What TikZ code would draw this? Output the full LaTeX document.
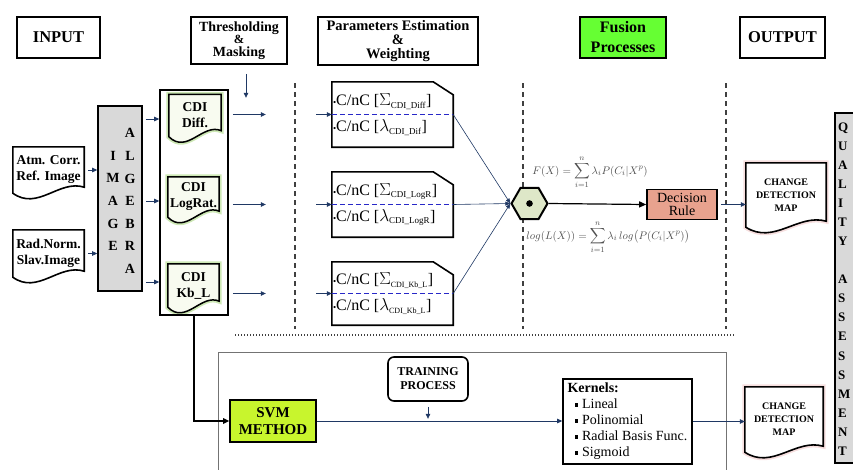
\documentclass[tikz,border=0pt]{standalone}
\usepackage{amsmath}
\usepackage{fontspec}
\setmainfont{Liberation Serif}
\usetikzlibrary{arrows.meta,shapes.geometric,calc,backgrounds}
\definecolor{navy}{RGB}{31,56,100}
\definecolor{fusiongreen}{RGB}{102,255,51}
\definecolor{svmgreen}{RGB}{200,245,45}
\definecolor{salmon}{RGB}{232,162,142}
\definecolor{panelgray}{RGB}{217,217,217}
\definecolor{hexfill}{RGB}{222,231,200}
\definecolor{cdifill}{RGB}{248,251,240}
\definecolor{cdiglow}{RGB}{205,232,180}
\definecolor{mapglow}{RGB}{246,222,222}
\definecolor{formulagray}{RGB}{80,80,80}
\definecolor{dashblue}{RGB}{40,40,200}
\newcommand\fsz[2]{\fontsize{#1}{#2}\selectfont}
\newcommand\docoutline[2]{%
  \path[#1] (#2.south west) -- (#2.north west) -- (#2.north east) -- ($(#2.south east)+(0,-6)$)
    .. controls ($(#2.south west)!0.65!(#2.south east)+(0,-14)$) and ($(#2.south west)!0.35!(#2.south east)+(0,18)$) .. (#2.south west) -- cycle;}
\newcommand\snipbox[1]{%
  \draw[line width=1.6pt] (#1.south west) -- (#1.north west) -- ($(#1.north east)+(-20,0)$) -- ($(#1.north east)+(0,13)$) -- (#1.south east) -- cycle;
  \draw[dashblue,line width=1.2pt,dash pattern=on 5pt off 3pt] (#1.west) -- (#1.east);}
\newcommand\kbullet{\hspace*{7pt}\raisebox{2pt}{\rule{3.5pt}{3.5pt}}\hspace{4pt}}
\tikzset{
  box/.style={draw,line width=1.6pt,inner sep=0pt,align=center},
  hdr/.style={box,font=\bfseries\fsz{14}{12.5}},
  doctext/.style={inner sep=0pt,align=center,font=\bfseries\fsz{13.5}{16}},
  cditext/.style={inner sep=0pt,align=center,font=\bfseries\fsz{13.5}{16},minimum width=52pt,minimum height=42pt},
  maptext/.style={inner sep=0pt,align=center,font=\bfseries\fsz{10}{13}},
  ptext/.style={inner sep=0pt,anchor=west,font=\fsz{16}{18}},
  alglet/.style={inner sep=0pt,align=center,font=\bfseries\fsz{14}{22.6}},
  formula/.style={inner sep=0pt,text=formulagray,font=\fsz{11}{12}},
  arr/.style={navy,line width=0.7pt,-{Triangle[length=5pt,width=4.5pt]}},
  thinarr/.style={navy,line width=0.6pt,-{Triangle[length=5pt,width=4pt]}},
  blackarr/.style={black,line width=1.2pt,-{Triangle[length=7pt,width=6pt]}},
  thickarr/.style={black,line width=2pt,-{Triangle[length=6pt,width=5.5pt]}},
  vdash/.style={black!75,line width=1.3pt,dash pattern=on 5pt off 4pt},
  hdot/.style={black!75,line width=1.6pt,dash pattern=on 1.2pt off 1.8pt}
}
\begin{document}
\begin{tikzpicture}[x=1pt,y=-1pt]
\useasboundingbox (0,0) rectangle (853,469);

% ---------- headers
\node[hdr,minimum width=83pt,minimum height=41pt,font=\bfseries\fsz{16.5}{18}] (input) at (58.5,37.5) {INPUT};
\node[hdr,minimum width=96pt,minimum height=47pt] (thresh) at (239,40.5) {Thresholding\\{\fsz{12.5}{12}\&}\\Masking};
\node[hdr,minimum width=160pt,minimum height=48pt,font=\bfseries\fsz{14.5}{14}] (paramh) at (398,41) {Parameters Estimation\\\&\\Weighting};
\node[hdr,fill=fusiongreen,minimum width=86pt,minimum height=41pt,font=\bfseries\fsz{16}{20}] (fusion) at (623,37.5) {Fusion\\Processes};
\node[hdr,minimum width=85pt,minimum height=41pt,font=\bfseries\fsz{16.5}{18}] (output) at (782.5,37.5) {OUTPUT};

% ---------- separators
\coordinate (d1t) at (295,83);  \coordinate (d1b) at (295,329);
\coordinate (d2t) at (523,83);  \coordinate (d2b) at (523,329);
\coordinate (d3t) at (726,83);  \coordinate (d3b) at (726,329);
\coordinate (hl) at (235,335);  \coordinate (hr) at (735,335);
\draw[vdash] (d1t) -- (d1b);
\draw[vdash] (d2t) -- (d2b);
\draw[vdash] (d3t) -- (d3b);
\draw[hdot] (hl) -- (hr);

% ---------- input documents
\node[doctext,minimum width=71pt,minimum height=46pt] (atm) at (48.5,170) {Atm. Corr.\\Ref. Image};
\node[doctext,minimum width=71pt,minimum height=47pt] (rad) at (48.5,253.5) {Rad.Norm.\\Slav.Image};

% ---------- image algebra
\node[draw,line width=1.6pt,fill=panelgray,minimum width=44pt,minimum height=185pt] (alg) at (120,198.5) {};
\node[alglet] (algL) at (113,201) {I\\M\\A\\G\\E};
\node[alglet] (algR) at (130,201) {A\\L\\G\\E\\B\\R\\A};

% ---------- CDI container
\node[draw,line width=1.6pt,minimum width=68pt,minimum height=225pt] (cont) at (194,202.5) {};
\node[cditext] (cdiA) at (195,115.5) {CDI\\Diff.};
\node[cditext,minimum width=51pt,minimum height=40pt] (cdiB) at (193.5,197) {CDI\\LogRat.};
\node[cditext,minimum width=51pt,minimum height=43pt] (cdiC) at (193.5,285.5) {CDI\\Kb\_L};

% ---------- parameter boxes
\node[minimum width=121pt,minimum height=65pt,inner sep=0pt] (p1) at (392.5,114.5) {};
\node[minimum width=121pt,minimum height=65pt,inner sep=0pt] (p2) at (392.5,204.5) {};
\node[minimum width=121pt,minimum height=63pt,inner sep=0pt] (p3) at (392.5,293.5) {};
\snipbox{p1}\snipbox{p2}\snipbox{p3}
\node[ptext] (p1a) at ($(p1.west)+(1,-13)$) {{\fsz{9}{9}\textbullet}C/nC [$\Sigma$\textsubscript{\fsz{9}{9}CDI\_Diff}]};
\node[ptext] (p1b) at ($(p1.west)+(1,13)$) {{\fsz{9}{9}\textbullet}C/nC [$\lambda$\textsubscript{\fsz{9}{9}CDI\_Dif}]};
\node[ptext] (p2a) at ($(p2.west)+(1,-13)$) {{\fsz{9}{9}\textbullet}C/nC [$\Sigma$\textsubscript{\fsz{9}{9}CDI\_LogR}]};
\node[ptext] (p2b) at ($(p2.west)+(1,13)$) {{\fsz{9}{9}\textbullet}C/nC [$\lambda$\textsubscript{\fsz{9}{9}CDI\_LogR}]};
\node[ptext] (p3a) at ($(p3.west)+(1,-13)$) {{\fsz{9}{9}\textbullet}C/nC [$\Sigma$\textsubscript{\fsz{8}{8}CDI\_Kb\_L}]};
\node[ptext] (p3b) at ($(p3.west)+(1,13)$) {{\fsz{9}{9}\textbullet}C/nC [$\lambda$\textsubscript{\fsz{8}{8}CDI\_Kb\_L}]};

% ---------- fusion
\node[regular polygon,regular polygon sides=6,minimum size=36pt,inner sep=0pt,draw,line width=2pt,fill=hexfill] (hex) at (529.5,203.5) {};
\fill (hex.center) circle[radius=3.3pt];
\node[box,fill=salmon,minimum width=70pt,minimum height=30pt,font=\fsz{14}{12.5}] (dec) at (682,204.5) {Decision\\Rule};
\node[formula] (fF) at (590,172) {$F(X) = \displaystyle\sum_{i=1}^{n} \lambda_i P(C_i|X^p)$};
\node[formula] (fL) at (608,237) {$log(L(X)) = \displaystyle\sum_{i=1}^{n} \lambda_i\, log\bigl(P(C_i|X^p)\bigr)$};

% ---------- output maps
\node[maptext,minimum width=80pt,minimum height=64pt] (map1) at (786,195) {CHANGE\\DETECTION\\MAP};
\node[maptext,minimum width=78pt,minimum height=65pt] (map2) at (784,419.5) {CHANGE\\DETECTION\\MAP};

% ---------- quality assessment panel
\begin{scope}
\clip (0,0) rectangle (853,469);
\node[draw,line width=1.6pt,fill=panelgray,minimum width=40pt,minimum height=350pt,anchor=north west] (qa) at (834,112) {};
\end{scope}
\node[inner sep=0pt,anchor=west,align=left,font=\bfseries\fsz{13}{19.06}] (qatext) at (838,289) {Q\\U\\A\\L\\I\\T\\Y\\\mbox{}\\A\\S\\S\\E\\S\\S\\M\\E\\N\\T};

% ---------- lower SVM section
\draw[black!55,line width=0.8pt] (218,480) -- (218,352) -- (726,352) -- (726,480);
\node[box,fill=svmgreen,minimum width=86pt,minimum height=42pt,font=\bfseries\fsz{15}{17}] (svm) at (273,421) {SVM\\METHOD};
\node[box,rounded corners=6pt,minimum width=80pt,minimum height=44pt,font=\bfseries\fsz{12}{14}] (train) at (428,379) {TRAINING\\PROCESS};
\node[box,align=left,minimum width=129pt,minimum height=85pt,font=\fsz{14}{16}] (kern) at (627.5,421.5)
  {\textbf{Kernels:}\\\kbullet Lineal\\\kbullet Polinomial\\\kbullet Radial Basis Func.\\\kbullet Sigmoid};

% ---------- document outlines (background)
\begin{scope}[on background layer]
  \docoutline{draw,fill=white,line width=1.6pt}{atm}
  \docoutline{draw,fill=white,line width=1.6pt}{rad}
  \foreach \n in {cdiA,cdiB,cdiC}{
    \docoutline{draw=cdiglow,line width=5pt}{\n}
    \docoutline{draw,fill=cdifill,line width=1.5pt}{\n}
  }
  \foreach \n in {map1,map2}{
    \docoutline{draw=mapglow,line width=5pt}{\n}
    \docoutline{draw,fill=white,line width=1.6pt}{\n}
  }
\end{scope}

% ---------- connectors
\draw[arr] (atm.east) ++(4,0) -- (atm.east -| alg.west);
\draw[arr] (rad.east) ++(4,0) -- (rad.east -| alg.west);
\draw[arr] (alg.east |- 0,119) ++(3,0) -- (cont.west |- 0,119);
\draw[arr] (alg.east |- 0,201) ++(3,0) -- (cont.west |- 0,201);
\draw[arr] (alg.east |- 0,282) ++(3,0) -- (cont.west |- 0,282);
\draw[arr] (thresh.south) ++(7,9) -- ++(0,24);
\draw[arr] (cont.east |- p1.west) ++(4,0) -- ++(33,0);
\draw[arr] (cont.east |- p2.west) ++(4,0) -- ++(33,0);
\draw[arr] (cont.east |- p3.west) ++(4,0) -- ++(33,0);
\draw[arr] (d1t |- p1.west) ++(21,0) -- (p1.west);
\draw[arr] (d1t |- p2.west) ++(21,0) -- (p2.west);
\draw[arr] (d1t |- p3.west) ++(21,0) -- (p3.west);
\draw[thinarr] (p1.east) -- (hex.west);
\draw[thinarr] (p2.east) -- (hex.west);
\draw[thinarr] (p3.east) -- (hex.west);
\draw[blackarr] (hex.east) -- (dec.west);
\draw[arr] (dec.east) ++(3,0) -- (dec.east -| map1.west);
\draw[thickarr] (cont.south) -- (cont.south |- svm.west) -- (svm.west);
\draw[arr] (train.south) ++(0,5) -- ++(0,12);
\draw[arr] (svm.east) -- (svm.east -| kern.west);
\draw[arr] (kern.east) -- (kern.east -| map2.west);
\end{tikzpicture}
\end{document}
